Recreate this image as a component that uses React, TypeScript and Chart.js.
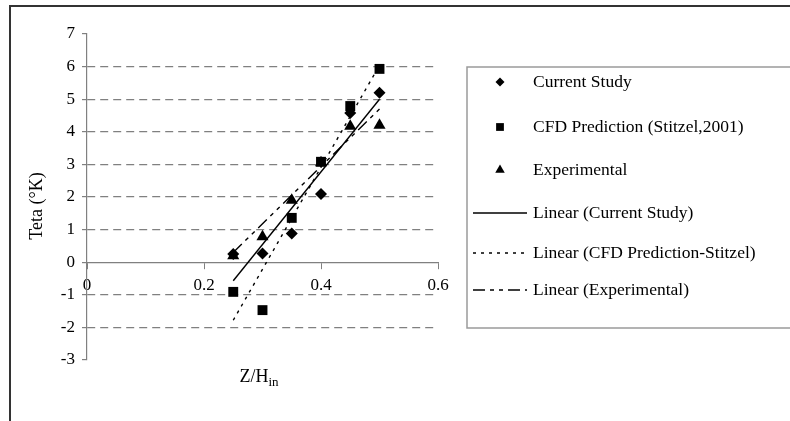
import React, { useEffect, useRef } from 'react';
import { Chart, registerables } from 'chart.js';

Chart.register(...registerables);

// ---- data ----
const zPositions = [0.25, 0.3, 0.35, 0.4, 0.45, 0.5];
const currentStudy = [0.25, 0.27, 0.88, 2.09, 4.58, 5.2];
const cfdPrediction = [-0.91, -1.47, 1.36, 3.08, 4.79, 5.93];
const experimental = [0.2, 0.78, 1.9, 3.05, 4.17, 4.2];

const trendZ = [0.25, 0.5];
const currentTrend = [-0.57, 5.0];
const cfdTrend = [-1.78, 6.04];
const experimentalTrend = [0.3, 4.7];

const xTickLabels = ['0', '0.2', '0.4', '0.6'];
const yTickLabels = ['-3', '-2', '-1', '0', '1', '2', '3', '4', '5', '6', '7'];
const hiddenGridValues = [-3, 0, 7];

const legendLabels = [
  'Current Study',
  'CFD Prediction (Stitzel,2001)',
  'Experimental',
  'Linear (Current Study)',
  'Linear (CFD Prediction-Stitzel)',
  'Linear (Experimental)',
];
const yTitle = 'Teta (°K)';
const xTitleMain = 'Z/H';
const xTitleSub = 'in';

const FONT = '"Liberation Serif", "Times New Roman", serif';
const GRAY = '#808080';
const DOT_DASH = [3, 5];
const DASH_DOT = [12, 5, 4, 5, 4, 5];

const pts = (xs: number[], ys: number[]) => xs.map((x, i) => ({ x, y: ys[i] }));

function drawMarker(ctx: CanvasRenderingContext2D, kind: string, x: number, y: number, r: number) {
  ctx.beginPath();
  if (kind === 'diamond') {
    ctx.moveTo(x - r, y);
    ctx.lineTo(x, y - r);
    ctx.lineTo(x + r, y);
    ctx.lineTo(x, y + r);
  } else if (kind === 'square') {
    const h = r * Math.SQRT1_2;
    ctx.rect(x - h, y - h, 2 * h, 2 * h);
  } else {
    ctx.moveTo(x, y - r);
    ctx.lineTo(x + r * 0.866, y + r * 0.5);
    ctx.lineTo(x - r * 0.866, y + r * 0.5);
  }
  ctx.closePath();
  ctx.fill();
}

const decorPlugin = {
  id: 'decor',
  afterDraw(chart: any) {
    const ctx: CanvasRenderingContext2D = chart.ctx;
    ctx.save();
    // outer frame
    ctx.strokeStyle = '#333';
    ctx.lineWidth = 2;
    ctx.strokeRect(10, 6, 900, 600);

    // axis titles
    ctx.fillStyle = '#000';
    ctx.font = `18px ${FONT}`;
    ctx.save();
    ctx.translate(37, 206);
    ctx.rotate(-Math.PI / 2);
    ctx.textAlign = 'center';
    ctx.textBaseline = 'middle';
    ctx.fillText(yTitle, 0, 0);
    ctx.restore();

    ctx.textAlign = 'left';
    ctx.textBaseline = 'alphabetic';
    ctx.font = `18px ${FONT}`;
    const w1 = ctx.measureText(xTitleMain).width;
    ctx.font = `13px ${FONT}`;
    const w2 = ctx.measureText(xTitleSub).width;
    const sx = 259 - (w1 + w2) / 2;
    ctx.font = `18px ${FONT}`;
    ctx.fillText(xTitleMain, sx, 382);
    ctx.font = `13px ${FONT}`;
    ctx.fillText(xTitleSub, sx + w1, 386);

    // legend box
    ctx.strokeStyle = '#9a9a9a';
    ctx.lineWidth = 1.5;
    ctx.strokeRect(467, 67, 500, 261);

    const rows = [82, 127, 170, 213, 253, 290];
    const markerKinds = ['diamond', 'square', 'triangle'];
    const markerSizes = [4.5, 5.5, 5.5];
    const dashes = [[], DOT_DASH, DASH_DOT];
    ctx.fillStyle = '#000';
    ctx.strokeStyle = '#000';
    for (let i = 0; i < 3; i++) {
      drawMarker(ctx, markerKinds[i], 500, rows[i], markerSizes[i]);
    }
    ctx.lineWidth = 1.4;
    for (let i = 0; i < 3; i++) {
      ctx.setLineDash(dashes[i]);
      ctx.beginPath();
      ctx.moveTo(473, rows[3 + i]);
      ctx.lineTo(527, rows[3 + i]);
      ctx.stroke();
    }
    ctx.setLineDash([]);
    ctx.font = `17.5px ${FONT}`;
    ctx.textBaseline = 'middle';
    legendLabels.forEach((t, i) => ctx.fillText(t, 533, rows[i]));
    ctx.restore();
  },
};

export default function App() {
  const ref = useRef<HTMLCanvasElement>(null);
  useEffect(() => {
    document.body.style.margin = '0';
    Chart.defaults.font.family = FONT;
    const pointBase = { showLine: false, backgroundColor: '#000', borderColor: '#000', borderWidth: 0, order: 0 };
    const lineBase = { showLine: true, pointRadius: 0, borderColor: '#000', borderWidth: 1.4, fill: false, order: 1 };
    const chart = new Chart(ref.current as HTMLCanvasElement, {
      type: 'scatter',
      data: {
        datasets: [
          { ...pointBase, label: legendLabels[0], data: pts(zPositions, currentStudy), pointStyle: 'rectRot', pointRadius: 6 },
          { ...pointBase, label: legendLabels[1], data: pts(zPositions, cfdPrediction), pointStyle: 'rect', pointRadius: 7 },
          { ...pointBase, label: legendLabels[2], data: pts(zPositions, experimental), pointStyle: 'triangle', pointRadius: 7 },
          { ...lineBase, label: legendLabels[3], data: pts(trendZ, currentTrend) },
          { ...lineBase, label: legendLabels[4], data: pts(trendZ, cfdTrend), borderDash: DOT_DASH },
          { ...lineBase, label: legendLabels[5], data: pts(trendZ, experimentalTrend), borderDash: DASH_DOT },
        ] as any,
      },
      options: {
        responsive: false,
        animation: false,
        layout: { padding: { left: 0, top: 34, right: 352, bottom: 61 } },
        plugins: { legend: { display: false }, tooltip: { enabled: false } },
        scales: {
          x: {
            type: 'linear',
            position: { y: 0 } as any,
            min: 0,
            max: 0.6,
            ticks: {
              stepSize: 0.2,
              color: '#000',
              padding: 7,
              font: { size: 17, family: FONT },
              callback: (_v: any, i: number) => xTickLabels[i],
            },
            grid: { drawOnChartArea: false, drawTicks: true, tickLength: 6, tickColor: GRAY, color: GRAY },
            border: { display: true, color: GRAY, width: 1.2 },
          },
          y: {
            type: 'linear',
            position: 'left',
            min: -3,
            max: 7,
            ticks: {
              stepSize: 1,
              color: '#000',
              padding: 7,
              font: { size: 17, family: FONT },
              callback: (_v: any, i: number) => yTickLabels[i],
            },
            grid: {
              color: (c: any) => (hiddenGridValues.includes(c.tick?.value) ? 'rgba(0,0,0,0)' : GRAY),
              lineWidth: 1.2,
              tickLength: 5,
              tickColor: GRAY,
            },
            border: { display: true, color: GRAY, width: 1.2, dash: [8, 5] },
            afterFit: (s: any) => { s.width = 87; },
          },
        },
      } as any,
      plugins: [decorPlugin],
    });
    return () => chart.destroy();
  }, []);
  return (
    <div style={{ width: 790, height: 421, background: '#fff' }}>
      <canvas ref={ref} width={790} height={421} style={{ display: 'block' }} />
    </div>
  );
}
